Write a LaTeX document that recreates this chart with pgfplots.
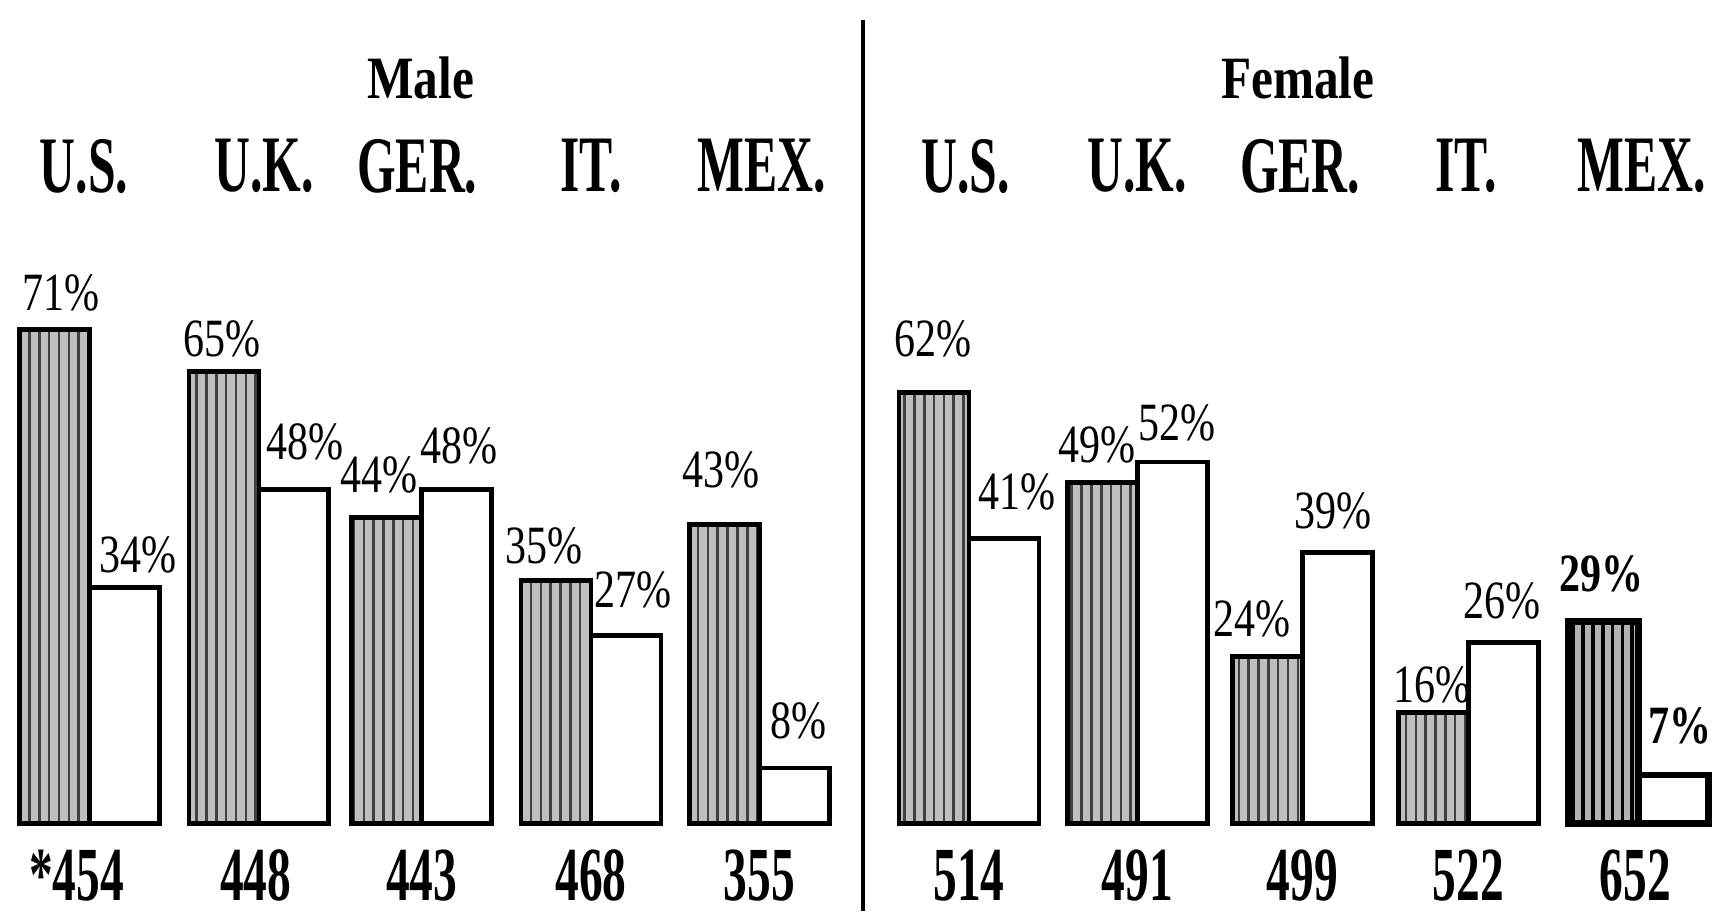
\documentclass[border=0pt]{standalone}
\usepackage{fontspec}
\setmainfont{Liberation Serif}
\usepackage{graphicx}
\usepackage{pgfplots}
\pgfplotsset{compat=1.18}
\usetikzlibrary{patterns.meta}

\newcommand\pc[1]{\scalebox{0.78}[1]{\fontsize{14.8}{16}\selectfont #1\%}}
\newcommand\pcb[1]{\scalebox{0.78}[1]{\fontsize{14.8}{16}\selectfont\bfseries #1\%}}
\newcommand\cty[1]{\scalebox{0.62}[1]{\fontsize{22}{24}\selectfont\bfseries #1}}
\newcommand\num[1]{\scalebox{0.62}[1]{\fontsize{21}{23}\selectfont\bfseries #1}}
\newcommand\ttl[1]{\scalebox{0.82}[1]{\fontsize{16.5}{18}\selectfont\bfseries #1}}

\begin{document}
\begin{tikzpicture}
\begin{axis}[
  width=470.4pt, height=251.7pt, scale only axis,
  xmin=0, xmax=1568, ymin=-13.34, ymax=118.37,
  hide axis, clip=false,
  every node/.style={inner sep=0pt, anchor=center},
]
% hatched bars: gray base
\addplot[ybar, bar width=64, bar shift=0pt, fill=black!25, draw=black, line width=1.3pt]
  coordinates {(50,71) (205,65) (354,44) (509,35) (663,43) (855,62) (1009,49) (1160,24) (1312,16)};
\addplot[ybar, bar width=64, bar shift=0pt, draw=black, line width=1.3pt,
  pattern={Lines[angle=90,distance=2.7pt,line width=0.7pt]}, pattern color=black!75]
  coordinates {(50,71) (205,65) (354,44) (509,35) (663,43) (855,62) (1009,49) (1160,24) (1312,16)};
% Mexico female, darker
\addplot[ybar, bar width=64, bar shift=0pt, fill=black!30, draw=black, line width=1.9pt]
  coordinates {(1468,29)};
\addplot[ybar, bar width=64, bar shift=0pt, draw=black, line width=1.9pt,
  pattern={Lines[angle=90,distance=2.7pt,line width=1.0pt]}, pattern color=black]
  coordinates {(1468,29)};
% white bars
\addplot[ybar, bar width=64, bar shift=0pt, fill=white, draw=black, line width=1.3pt]
  coordinates {(114,34) (269,48) (418,48) (573,27) (727,8) (919,41) (1073,52) (1224,39) (1376,26)};
\addplot[ybar, bar width=64, bar shift=0pt, fill=white, draw=black, line width=1.9pt]
  coordinates {(1532,7)};
% divider
\addplot[black, line width=1pt] coordinates {(790,115.5) (790,-12.6)};

% titles
\node at (axis cs:385,107.1) {\ttl{Male}};
\node at (axis cs:1188,107.1) {\ttl{Female}};
% country labels
\node at (axis cs:77,94.5) {\cty{U.S.}};
\node at (axis cs:242,94.5) {\cty{U.K.}};
\node at (axis cs:382,94.5) {\cty{GER.}};
\node at (axis cs:541,94.5) {\cty{IT.}};
\node at (axis cs:697,94.5) {\cty{MEX.}};
\node at (axis cs:884,94.5) {\cty{U.S.}};
\node at (axis cs:1041,94.5) {\cty{U.K.}};
\node at (axis cs:1190,94.5) {\cty{GER.}};
\node at (axis cs:1342,94.5) {\cty{IT.}};
\node at (axis cs:1503,94.5) {\cty{MEX.}};
% percentages
\node at (axis cs:56,76.3) {\pc{71}};
\node at (axis cs:126,38.6) {\pc{34}};
\node at (axis cs:203,69.7) {\pc{65}};
\node at (axis cs:279,54.8) {\pc{48}};
\node at (axis cs:347,50.1) {\pc{44}};
\node at (axis cs:420,54.3) {\pc{48}};
\node at (axis cs:498,39.9) {\pc{35}};
\node at (axis cs:579,33.6) {\pc{27}};
\node at (axis cs:660,50.9) {\pc{43}};
\node at (axis cs:731,14.8) {\pc{8}};
\node at (axis cs:854,69.7) {\pc{62}};
\node at (axis cs:931,47.7) {\pc{41}};
\node at (axis cs:1004,54.5) {\pc{49}};
\node at (axis cs:1077,57.6) {\pc{52}};
\node at (axis cs:1146,29.4) {\pc{24}};
\node at (axis cs:1220,44.9) {\pc{39}};
\node at (axis cs:1311,19.9) {\pc{16}};
\node at (axis cs:1375,32.0) {\pc{26}};
\node at (axis cs:1466,35.9) {\pcb{29}};
\node at (axis cs:1538,14.0) {\pcb{7}};
% sample sizes
\node at (axis cs:70,-7.4) {\num{*454}};
\node at (axis cs:234,-7.4) {\num{448}};
\node at (axis cs:386,-7.4) {\num{443}};
\node at (axis cs:541,-7.4) {\num{468}};
\node at (axis cs:695,-7.4) {\num{355}};
\node at (axis cs:887,-7.4) {\num{514}};
\node at (axis cs:1041,-7.4) {\num{491}};
\node at (axis cs:1192,-7.4) {\num{499}};
\node at (axis cs:1344,-7.4) {\num{522}};
\node at (axis cs:1497,-7.4) {\num{652}};
\end{axis}
\pgfresetboundingbox
\path[use as bounding box] (0,0) rectangle (470.4pt,251.7pt);
\end{tikzpicture}
\end{document}
